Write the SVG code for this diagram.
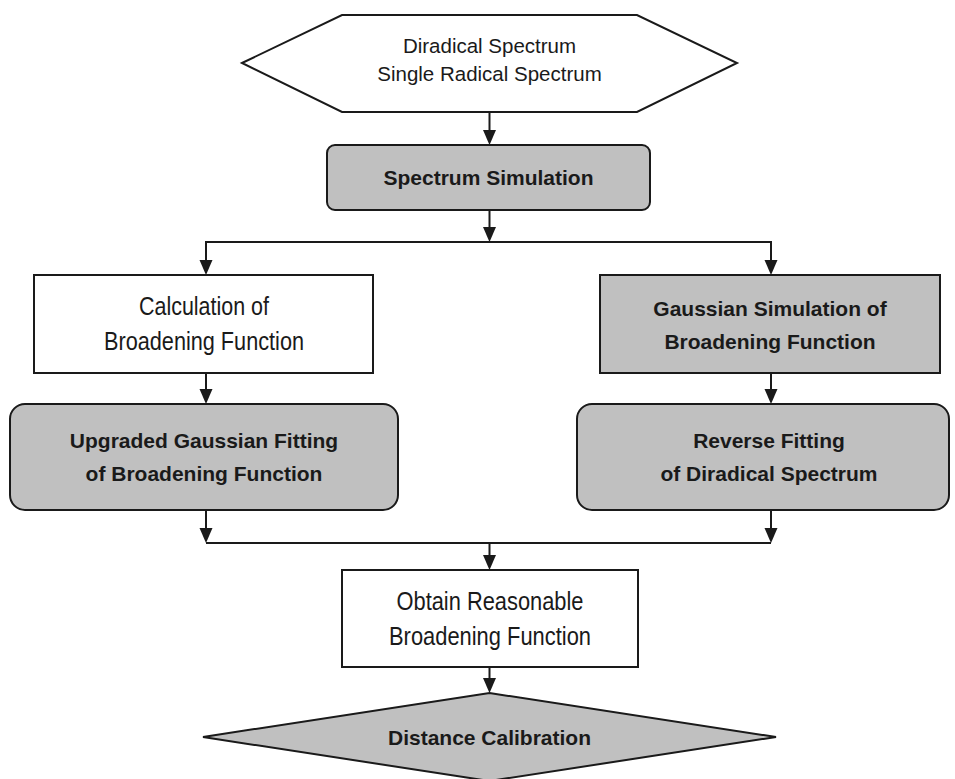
<svg xmlns="http://www.w3.org/2000/svg" width="955" height="779" viewBox="0 0 955 779">
  <defs>
    <marker id="arrow" markerUnits="userSpaceOnUse" markerWidth="16" markerHeight="14" refX="11" refY="6.5" orient="auto">
      <path d="M0,0 L15,6.5 L0,13 z" fill="#1a1a1a"/>
    </marker>
  </defs>
  <style>
    .shape { stroke: #1a1a1a; stroke-width: 2; }
    .white { fill: #ffffff; }
    .gray { fill: #c0c0c0; }
    .conn { stroke: #1a1a1a; stroke-width: 2; fill: none; }
    .t { font-family: "Liberation Sans", Arial, sans-serif; font-size: 20.5px; fill: #1a1a1a; text-anchor: middle; }
    .n { font-family: "Liberation Sans", Arial, sans-serif; font-size: 26px; fill: #1a1a1a; text-anchor: middle; }
    .b { font-family: "Liberation Sans", Arial, sans-serif; font-size: 21px; font-weight: bold; fill: #1a1a1a; text-anchor: middle; }
  </style>
  <rect x="0" y="0" width="955" height="779" fill="#ffffff"/>

  <g id="connectors">
    <path class="conn" d="M489.5,112 L489.5,141" marker-end="url(#arrow)"/>
    <path class="conn" d="M489.5,210 L489.5,238" marker-end="url(#arrow)"/>
    <path class="conn" d="M206,242 L771,242"/>
    <path class="conn" d="M206,241 L206,271" marker-end="url(#arrow)"/>
    <path class="conn" d="M771,241 L771,271" marker-end="url(#arrow)"/>
    <path class="conn" d="M206,373 L206,400" marker-end="url(#arrow)"/>
    <path class="conn" d="M771,373 L771,400" marker-end="url(#arrow)"/>
    <path class="conn" d="M206,510 L206,539" marker-end="url(#arrow)"/>
    <path class="conn" d="M771,510 L771,539" marker-end="url(#arrow)"/>
    <path class="conn" d="M206,543 L771,543"/>
    <path class="conn" d="M489.5,543 L489.5,566" marker-end="url(#arrow)"/>
    <path class="conn" d="M489.5,667 L489.5,689" marker-end="url(#arrow)"/>
  </g>

  <g id="input">
    <polygon class="shape white" points="242,63 342,15 637,15 737,63 637,112 342,112"/>
    <text class="t" x="489.5" y="53">Diradical Spectrum</text>
    <text class="t" x="489.5" y="81">Single Radical Spectrum</text>
  </g>

  <g id="spectrum-simulation">
    <rect class="shape gray" x="327" y="145" width="323" height="65" rx="8" ry="8"/>
    <text class="b" x="488.5" y="185">Spectrum Simulation</text>
  </g>

  <g id="calculation">
    <rect class="shape white" x="34" y="275" width="339" height="98"/>
    <text class="n" x="204" y="315" textLength="130" lengthAdjust="spacingAndGlyphs">Calculation of</text>
    <text class="n" x="204" y="350" textLength="200" lengthAdjust="spacingAndGlyphs">Broadening Function</text>
  </g>

  <g id="gaussian-simulation">
    <rect class="shape gray" x="600" y="275" width="340" height="98"/>
    <text class="b" x="770" y="316">Gaussian Simulation of</text>
    <text class="b" x="770" y="349">Broadening Function</text>
  </g>

  <g id="upgraded-fitting">
    <rect class="shape gray" x="10" y="404" width="388" height="106" rx="15" ry="15"/>
    <text class="b" x="204" y="448">Upgraded Gaussian Fitting</text>
    <text class="b" x="204" y="481">of Broadening Function</text>
  </g>

  <g id="reverse-fitting">
    <rect class="shape gray" x="577" y="404" width="372" height="106" rx="15" ry="15"/>
    <text class="b" x="769" y="448">Reverse Fitting</text>
    <text class="b" x="769" y="481">of Diradical Spectrum</text>
  </g>

  <g id="obtain">
    <rect class="shape white" x="342" y="570" width="296" height="97"/>
    <text class="n" x="490" y="610" textLength="187" lengthAdjust="spacingAndGlyphs">Obtain Reasonable</text>
    <text class="n" x="490" y="645" textLength="202" lengthAdjust="spacingAndGlyphs">Broadening Function</text>
  </g>

  <g id="distance-calibration">
    <polygon class="shape gray" points="489.5,693 776,737 489.5,781 203,737"/>
    <text class="b" x="489.5" y="745">Distance Calibration</text>
  </g>
</svg>
